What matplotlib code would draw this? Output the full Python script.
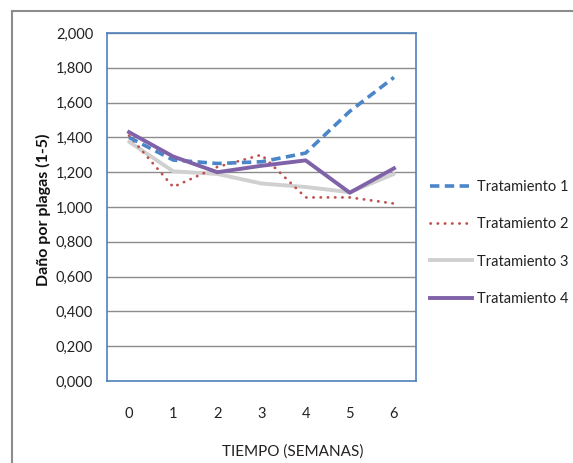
import matplotlib
matplotlib.use("Agg")
import matplotlib.pyplot as plt
from matplotlib.lines import Line2D
from matplotlib.ticker import FuncFormatter

plt.rcParams['font.family'] = ['Lato', 'DejaVu Sans']

weeks = [0, 1, 2, 3, 4, 5, 6]
t1 = [1.40, 1.27, 1.25, 1.26, 1.31, 1.55, 1.745]
t2 = [1.41, 1.115, 1.23, 1.30, 1.055, 1.055, 1.02]
t3 = [1.375, 1.205, 1.19, 1.135, 1.115, 1.085, 1.19]
t4 = [1.43, 1.29, 1.20, 1.237, 1.268, 1.082, 1.222]
names = ["Tratamiento 1", "Tratamiento 2", "Tratamiento 3", "Tratamiento 4"]
yticks = [0.0, 0.2, 0.4, 0.6, 0.8, 1.0, 1.2, 1.4, 1.6, 1.8, 2.0]

W, H = 573, 463
fig = plt.figure(figsize=(W/100, H/100), dpi=100)
ax = fig.add_axes([107/W, 1-381/H, (416-107)/W, (381-33)/H])

dot_style = (0, (0.1, 2.5))
dash_style = (0, (2.6, 1.5))

ax.plot(weeks, t3, color='#D0D0D0', lw=2.8, solid_capstyle='round', zorder=3)
ax.plot(weeks, t2, color='#C0504D', lw=2.0, linestyle=dot_style, dash_capstyle='round', zorder=4)
ax.plot(weeks, t1, color='#4A86C8', lw=2.6, linestyle=dash_style, zorder=5)
ax.plot(weeks, t4, color='#7F62A8', lw=2.8, zorder=6)

ax.set_xlim(-0.5, 6.5)
ax.set_ylim(0, 2.0)
ax.set_yticks(yticks)
ax.yaxis.set_major_formatter(FuncFormatter(lambda v, p: f"{v:.3f}".replace('.', ',')))
ax.set_xticks(weeks)
ax.grid(axis='y', color='#8C8C8C', lw=1.0)
ax.set_axisbelow(True)
for s in ax.spines.values():
    s.set_color('#4F81BD')
    s.set_linewidth(1.2)
ax.tick_params(axis='both', length=0, labelsize=10.5, colors='#222222')
ax.tick_params(axis='y', pad=10)
ax.tick_params(axis='x', pad=19)

fig.text(293/W, 1-452/H, "TIEMPO (SEMANAS)", ha='center', va='center', fontsize=11, color='#222222')
fig.text(43/W, 1-210/H, "Daño por plagas (1-5)", rotation=90, ha='center', va='center',
         fontsize=11.5, fontweight='bold', color='#111111')

handles = [
    Line2D([], [], color='#4A86C8', lw=2.6, linestyle=dash_style),
    Line2D([], [], color='#C0504D', lw=2.0, linestyle=dot_style, dash_capstyle='round'),
    Line2D([], [], color='#D0D0D0', lw=2.8),
    Line2D([], [], color='#7F62A8', lw=2.8),
]
leg = fig.legend(handles, names, loc='upper left', bbox_to_anchor=(424/W, 1-174/H),
                 frameon=False, fontsize=10.5, handlelength=2.9, handletextpad=0.35,
                 labelspacing=1.6, borderaxespad=0)
for t in leg.get_texts():
    t.set_color('#222222')

# outer chart frame (top and left edges visible)
fig.add_artist(Line2D([12/W, 12/W], [0, 1-11/H], transform=fig.transFigure, color='#8C8C8C', lw=1.5))
fig.add_artist(Line2D([12/W, 1], [1-11/H, 1-11/H], transform=fig.transFigure, color='#8C8C8C', lw=1.5))

fig.savefig("out.png", dpi=100)
